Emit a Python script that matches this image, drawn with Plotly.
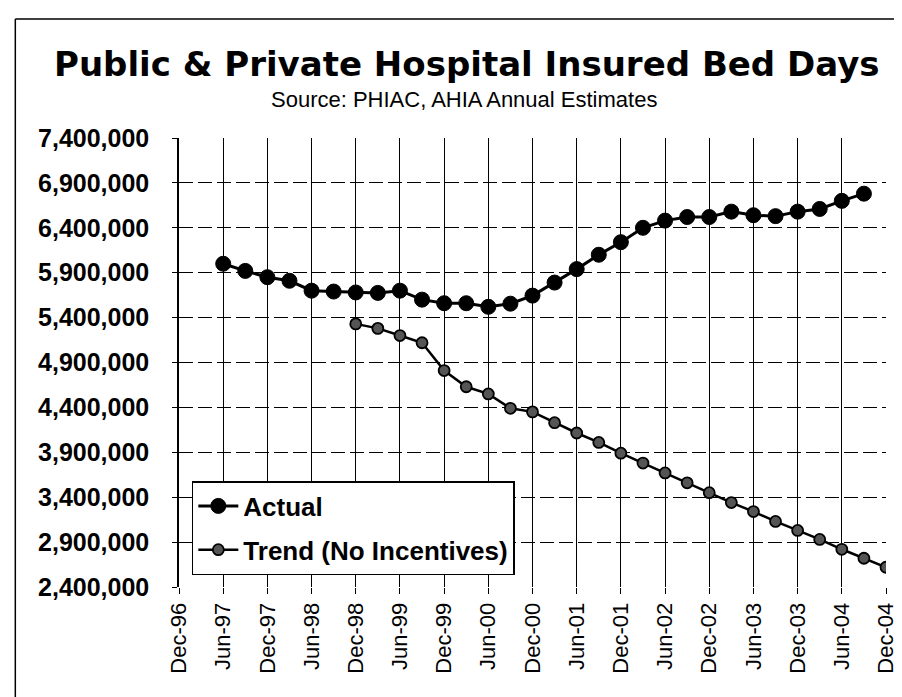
import plotly.graph_objects as go

# ---------------- data ----------------
quarters = [
    "Dec-96", "Mar-97", "Jun-97", "Sep-97", "Dec-97", "Mar-98", "Jun-98", "Sep-98",
    "Dec-98", "Mar-99", "Jun-99", "Sep-99", "Dec-99", "Mar-00", "Jun-00", "Sep-00",
    "Dec-00", "Mar-01", "Jun-01", "Sep-01", "Dec-01", "Mar-02", "Jun-02", "Sep-02",
    "Dec-02", "Mar-03", "Jun-03", "Sep-03", "Dec-03", "Mar-04", "Jun-04", "Sep-04",
    "Dec-04",
]
tick_labels = quarters[::2]

actual_quarters = quarters[2:32]          # Jun-97 .. Sep-04
actual_values = [
    6000000, 5920000, 5850000, 5810000, 5700000, 5690000, 5680000, 5675000,
    5700000, 5600000, 5560000, 5560000, 5520000, 5555000, 5645000, 5790000,
    5940000, 6100000, 6240000, 6400000, 6480000, 6520000, 6520000, 6580000,
    6540000, 6530000, 6580000, 6610000, 6700000, 6780000,
]

trend_quarters = quarters[8:]             # Dec-98 .. Dec-04
trend_values = [
    5330000, 5280000, 5200000, 5120000, 4810000, 4630000, 4550000, 4390000,
    4350000, 4230000, 4115000, 4010000, 3890000, 3780000, 3670000, 3560000,
    3450000, 3340000, 3240000, 3130000, 3030000, 2930000, 2820000, 2720000,
    2620000,
]

y_min, y_max, y_step = 2400000, 7400000, 500000

# ---------------- layout geometry ----------------
W, H = 902, 697
ML, MR, MT, MB = 171, 14, 130, 118
PW, PH = W - ML - MR, H - MT - MB
ARIAL = "Liberation Sans, Arial, sans-serif"


def px_x(x):
    return (x - ML) / PW


def px_y(y):
    return (H - MB - y) / PH


fig = go.Figure()

fig.add_trace(go.Scatter(
    x=actual_quarters, y=actual_values, name="Actual",
    mode="lines+markers", legendgroup="a",
    line=dict(color="black", width=3),
    marker=dict(size=15, color="black", line=dict(color="black", width=1)),
))
fig.add_trace(go.Scatter(
    x=trend_quarters, y=trend_values, name="Trend (No Incentives)",
    mode="lines+markers", legendgroup="b",
    line=dict(color="black", width=2.5),
    marker=dict(size=11, color="#555555", line=dict(color="black", width=1.8)),
))

fig.update_layout(
    width=W, height=H,
    margin=dict(l=ML, r=MR, t=MT, b=MB),
    paper_bgcolor="white", plot_bgcolor="white",
    showlegend=True,
    legend=dict(
        x=px_x(184), y=px_y(473), xanchor="left", yanchor="top",
        bgcolor="white", bordercolor="black", borderwidth=1.5,
        font=dict(family=ARIAL, size=26, color="black", weight="bold"),
        tracegroupgap=7, itemwidth=40,
    ),
    font=dict(family=ARIAL, color="black"),
)

fig.update_xaxes(
    type="category", categoryorder="array", categoryarray=quarters,
    range=[0, len(quarters) - 1],
    tickmode="array", tickvals=tick_labels, ticktext=tick_labels,
    tickangle=-90, ticks="outside", ticklen=6, tickcolor="black", tickwidth=1,
    tickfont=dict(family=ARIAL, size=22, color="black"),
    showgrid=True, gridcolor="black", gridwidth=1.2,
    showline=False, zeroline=False,
)
fig.update_yaxes(
    range=[y_min, y_max], tick0=y_min, dtick=y_step,
    tickformat=",d", ticks="outside", ticklen=5, tickcolor="black", tickwidth=1,
    ticklabelstandoff=18,
    tickfont=dict(family=ARIAL, size=25, color="black", weight="bold"),
    showgrid=True, gridcolor="black", gridwidth=1.3, griddash="14px,5px",
    showline=True, linecolor="black", linewidth=1.5,
    zeroline=False,
)

fig.add_annotation(
    text="<b>Public &amp; Private Hospital Insured Bed Days</b>",
    xref="paper", yref="paper", x=px_x(463), y=px_y(56),
    xanchor="center", yanchor="middle", showarrow=False,
    font=dict(family="DejaVu Sans, Verdana, sans-serif", size=34, color="black"),
)
fig.add_annotation(
    text="Source: PHIAC, AHIA Annual Estimates",
    xref="paper", yref="paper", x=px_x(460), y=px_y(91),
    xanchor="center", yanchor="middle", showarrow=False,
    font=dict(family=ARIAL, size=22, color="black"),
)

# outer frame (top and left edges visible in the reference)
fig.add_shape(type="line", xref="paper", yref="paper",
              x0=px_x(5), x1=px_x(902), y0=px_y(11), y1=px_y(11),
              line=dict(color="black", width=1.5))
fig.add_shape(type="line", xref="paper", yref="paper",
              x0=px_x(5), x1=px_x(5), y0=px_y(11), y1=px_y(697),
              line=dict(color="black", width=1.5))

fig.write_html("out.html")
